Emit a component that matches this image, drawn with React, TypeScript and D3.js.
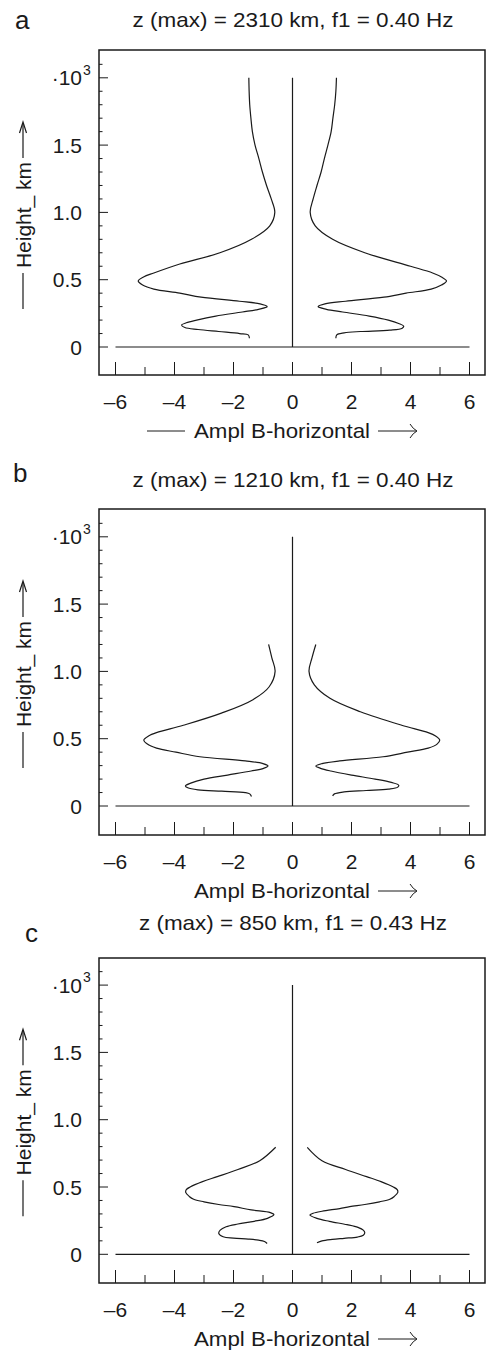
import React from 'react';
import * as d3 from 'd3';

const panelLetters = ['a', 'b', 'c'];
const panelTitles = [
  'z (max) = 2310 km, f1 = 0.40 Hz',
  'z (max) = 1210 km, f1 = 0.40 Hz',
  'z (max) = 850 km, f1 = 0.43 Hz',
];
const xTickValues = [-6, -5, -4, -3, -2, -1, 0, 1, 2, 3, 4, 5, 6];
const xLabelValues = [-6, -4, -2, 0, 2, 4, 6];
const yTickValues = [0, 0.1, 0.2, 0.3, 0.4, 0.5, 0.6, 0.7, 0.8, 0.9, 1.0, 1.1, 1.2, 1.3, 1.4, 1.5, 1.6, 1.7, 1.8, 1.9, 2.0, 2.1];
const yLabelValues = [0, 0.5, 1.0, 1.5];
const yLabelTexts = ['0', '0.5', '1.0', '1.5'];

// [height (10^3 km), amplitude]
const panelARight: [number, number][] = [
  [0.065, 1.47], [0.09, 1.5], [0.105, 1.75], [0.115, 2.3], [0.125, 3.3], [0.14, 3.72], [0.155, 3.77],
  [0.175, 3.6], [0.2, 3.25], [0.23, 2.6], [0.26, 1.7], [0.28, 1.15], [0.3, 0.87], [0.32, 1.1],
  [0.34, 1.8], [0.37, 3.1], [0.4, 3.85], [0.43, 4.7], [0.46, 5.05], [0.49, 5.22], [0.52, 5.05],
  [0.55, 4.75], [0.6, 4.0], [0.7, 2.45], [0.8, 1.36], [0.9, 0.77], [1.0, 0.6], [1.1, 0.7],
  [1.2, 0.83], [1.3, 0.97], [1.4, 1.08], [1.5, 1.2], [1.6, 1.31], [1.7, 1.37], [1.8, 1.43],
  [1.9, 1.47], [2.0, 1.49],
];
const panelALeft: [number, number][] = [
  [0.065, -1.46], [0.09, -1.5], [0.1, -1.79], [0.115, -2.5], [0.13, -3.2], [0.145, -3.65], [0.163, -3.76],
  [0.18, -3.6], [0.2, -3.25], [0.23, -2.6], [0.26, -1.7], [0.28, -1.15], [0.3, -0.86], [0.32, -1.1],
  [0.34, -1.8], [0.37, -3.1], [0.4, -3.82], [0.43, -4.7], [0.46, -5.08], [0.49, -5.23], [0.52, -5.05],
  [0.55, -4.7], [0.617, -3.82], [0.7, -2.46], [0.8, -1.39], [0.9, -0.77], [1.0, -0.6], [1.1, -0.72],
  [1.2, -0.88], [1.3, -1.02], [1.4, -1.14], [1.5, -1.27], [1.6, -1.36], [1.7, -1.41], [1.8, -1.45],
  [1.9, -1.47], [2.0, -1.48],
];
const panelBRight: [number, number][] = [
  [0.075, 1.36], [0.09, 1.42], [0.105, 1.75], [0.115, 2.5], [0.125, 3.25], [0.14, 3.57], [0.155, 3.6],
  [0.175, 3.35], [0.2, 2.8], [0.23, 2.0], [0.26, 1.3], [0.28, 0.95], [0.297, 0.79], [0.315, 1.0],
  [0.335, 1.6], [0.366, 3.07], [0.4, 3.9], [0.43, 4.6], [0.46, 4.9], [0.49, 4.99], [0.52, 4.85],
  [0.545, 4.6], [0.6, 3.7], [0.7, 2.3], [0.8, 1.27], [0.9, 0.74], [1.0, 0.56], [1.1, 0.66], [1.2, 0.79],
];
const panelBLeft: [number, number][] = [
  [0.07, -1.39], [0.09, -1.45], [0.1, -1.6], [0.11, -2.4], [0.12, -3.2], [0.135, -3.55], [0.149, -3.63],
  [0.17, -3.45], [0.2, -3.0], [0.23, -2.2], [0.26, -1.4], [0.28, -0.98], [0.297, -0.83], [0.315, -1.0],
  [0.335, -1.6], [0.366, -3.14], [0.4, -3.95], [0.43, -4.61], [0.46, -4.92], [0.49, -5.04], [0.52, -4.88],
  [0.545, -4.61], [0.6, -3.7], [0.69, -2.41], [0.79, -1.34], [0.886, -0.79], [1.0, -0.59], [1.1, -0.7], [1.2, -0.81],
];
const panelCRight: [number, number][] = [
  [0.086, 0.83], [0.1, 1.0], [0.111, 1.35], [0.119, 1.75], [0.128, 2.2], [0.142, 2.4], [0.16, 2.45],
  [0.18, 2.4], [0.2, 2.22], [0.22, 1.85], [0.245, 1.25], [0.267, 0.83], [0.292, 0.59], [0.305, 0.7],
  [0.32, 1.0], [0.34, 1.6], [0.354, 1.94], [0.37, 2.45], [0.39, 2.95], [0.409, 3.3], [0.43, 3.45],
  [0.46, 3.57], [0.48, 3.55], [0.5, 3.42], [0.54, 3.0], [0.577, 2.51], [0.63, 1.8], [0.695, 1.0], [0.795, 0.5],
];
const panelCLeft: [number, number][] = [
  [0.08, -0.86], [0.095, -0.95], [0.105, -1.15], [0.113, -1.5], [0.12, -2.0], [0.13, -2.35], [0.156, -2.5],
  [0.18, -2.45], [0.205, -2.25], [0.225, -1.85], [0.245, -1.3], [0.267, -0.85], [0.295, -0.63], [0.31, -0.75],
  [0.33, -1.4], [0.354, -1.98], [0.37, -2.5], [0.39, -3.0], [0.409, -3.35], [0.43, -3.5], [0.46, -3.62],
  [0.48, -3.6], [0.5, -3.47], [0.54, -3.05], [0.577, -2.55], [0.63, -1.85], [0.695, -1.11], [0.795, -0.57],
];

const panelCurves = [
  [panelALeft, panelARight],
  [panelBLeft, panelBRight],
  [panelCLeft, panelCRight],
];

const layout = [
  { zeroY: 347, topY: 50, bottomY: 375, titleY: 27, titleLen: 321, letterX: 15, letterY: 29, lead: true },
  { zeroY: 806, topY: 509, bottomY: 835, titleY: 487, titleLen: 321, letterX: 13, letterY: 482, lead: false },
  { zeroY: 1254.3, topY: 958, bottomY: 1283, titleY: 930, titleLen: 308, letterX: 25, letterY: 942, lead: false },
];

const INK = '#1a1a1a';
const FONT = '"Liberation Sans", Arial, Helvetica, sans-serif';
const BOX_L = 99;
const BOX_R = 485;

const x = d3.scaleLinear().domain([-6, 6]).range([115.5, 469.5]);

function fmtX(v: number) {
  return v < 0 ? '\u2013' + Math.abs(v) : String(v);
}

function Panel({ idx }: { idx: number }) {
  const L = layout[idx];
  const y = d3.scaleLinear().domain([0, 2]).range([L.zeroY, L.zeroY - 269.2]);
  const line = d3
    .line<[number, number]>()
    .x((d) => x(d[1]))
    .y((d) => y(d[0]))
    .curve(d3.curveCatmullRom.alpha(0.5));
  const [left, right] = panelCurves[idx];
  const xlY = L.bottomY + 63;
  const shaftY = xlY - 7;
  const ylX = 23;
  return (
    <g>
      <text x={L.letterX} y={L.letterY} fontSize={26} fill={INK} fontFamily={FONT}>
        {panelLetters[idx]}
      </text>
      <text
        x={293}
        y={L.titleY}
        fontSize={21}
        fill={INK}
        fontFamily={FONT}
        textAnchor="middle"
        textLength={L.titleLen}
        lengthAdjust="spacingAndGlyphs"
      >
        {panelTitles[idx]}
      </text>
      <rect
        x={BOX_L}
        y={L.topY}
        width={BOX_R - BOX_L}
        height={L.bottomY - L.topY}
        fill="none"
        stroke={INK}
        strokeWidth={1.5}
      />
      {yTickValues.map((v, i) => {
        const major = i % 5 === 0;
        return (
          <line
            key={'yt' + i}
            x1={BOX_L}
            x2={BOX_L + (major ? 9 : 3.5)}
            y1={y(v)}
            y2={y(v)}
            stroke={INK}
            strokeWidth={1}
          />
        );
      })}
      {yLabelValues.map((v, i) => (
        <text
          key={'yl' + i}
          x={82}
          y={y(v) + 7.5}
          fontSize={21}
          fill={INK}
          fontFamily={FONT}
          textAnchor="end"
        >
          {yLabelTexts[i]}
        </text>
      ))}
      <text x={82} y={y(2) + 7.5} fontSize={21} fill={INK} fontFamily={FONT} textAnchor="end">
        {'\u00B710'}
      </text>
      <text x={83} y={y(2) - 3} fontSize={14} fill={INK} fontFamily={FONT}>
        3
      </text>
      {xTickValues.map((v) => {
        const major = v % 2 === 0;
        return (
          <line
            key={'xt' + v}
            x1={x(v)}
            x2={x(v)}
            y1={L.bottomY}
            y2={L.bottomY - (major ? 13 : 8)}
            stroke={INK}
            strokeWidth={1}
          />
        );
      })}
      {xLabelValues.map((v) => (
        <text
          key={'xl' + v}
          x={x(v)}
          y={L.bottomY + 34}
          fontSize={21}
          fill={INK}
          fontFamily={FONT}
          textAnchor="middle"
        >
          {fmtX(v)}
        </text>
      ))}
      {L.lead && <line x1={147} x2={185} y1={shaftY} y2={shaftY} stroke={INK} strokeWidth={1} />}
      <text
        x={194}
        y={xlY}
        fontSize={21}
        fill={INK}
        fontFamily={FONT}
        textLength={176}
        lengthAdjust="spacingAndGlyphs"
      >
        Ampl B-horizontal
      </text>
      <line x1={378} x2={416} y1={shaftY} y2={shaftY} stroke={INK} strokeWidth={1} />
      <path
        d={`M410,${shaftY - 7} Q413,${shaftY - 2} 417,${shaftY} Q413,${shaftY + 2} 410,${shaftY + 7}`}
        fill="none"
        stroke={INK}
        strokeWidth={1}
      />
      <line x1={ylX} x2={ylX} y1={L.zeroY - 74} y2={L.zeroY - 38} stroke={INK} strokeWidth={1.2} />
      <text
        transform={`translate(31,${L.zeroY - 132}) rotate(-90)`}
        fontSize={21}
        fill={INK}
        fontFamily={FONT}
        textAnchor="middle"
      >
        Height_ km
      </text>
      <line x1={ylX} x2={ylX} y1={L.zeroY - 189} y2={L.zeroY - 224} stroke={INK} strokeWidth={1.2} />
      <path
        d={`M${ylX - 3.5},${L.zeroY - 214} L${ylX},${L.zeroY - 225} L${ylX + 3.5},${L.zeroY - 214}`}
        fill="none"
        stroke={INK}
        strokeWidth={1.2}
      />
      <line x1={x(-6)} x2={x(6)} y1={y(0)} y2={y(0)} stroke={INK} strokeWidth={1.2} />
      <line x1={x(0)} x2={x(0)} y1={y(0)} y2={y(2)} stroke={INK} strokeWidth={1.2} />
      <path d={line(left) || ''} fill="none" stroke={INK} strokeWidth={1.2} />
      <path d={line(right) || ''} fill="none" stroke={INK} strokeWidth={1.2} />
    </g>
  );
}

export default function App() {
  return (
    <svg
      width={486}
      height={1352}
      viewBox="0 0 486 1352"
      style={{ position: 'absolute', left: 0, top: 0, display: 'block', background: '#fff' }}
    >
      <rect x={0} y={0} width={486} height={1352} fill="#fff" />
      {[0, 1, 2].map((i) => (
        <Panel key={i} idx={i} />
      ))}
    </svg>
  );
}
